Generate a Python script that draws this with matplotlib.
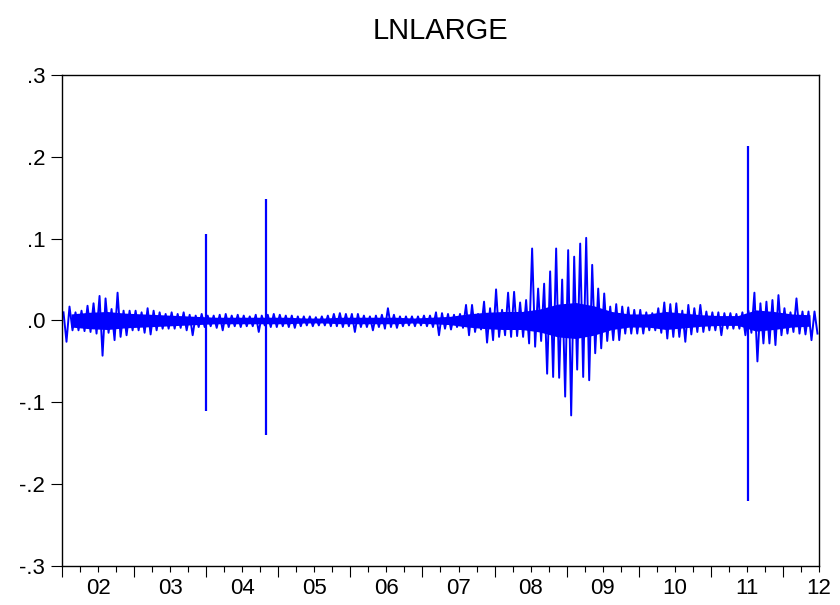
import numpy as np
import matplotlib
matplotlib.use('Agg')
import matplotlib.pyplot as plt

plt.rcParams['font.family'] = ['Liberation Sans', 'DejaVu Sans']

# monthly high / low of the series, Jan 2002 .. Jun 2012
hi = [0.010, 0.017, 0.010, 0.012, 0.018, 0.021, 0.030, 0.027, 0.014, 0.034, 0.012, 0.012,   # 2002
      0.012, 0.010, 0.015, 0.012, 0.010, 0.008, 0.010, 0.008, 0.010, 0.007, 0.006, 0.008,   # 2003
      0.006, 0.006, 0.007, 0.008, 0.006, 0.007, 0.006, 0.005, 0.007, 0.006, 0.007, 0.008,   # 2004
      0.007, 0.006, 0.006, 0.005, 0.005, 0.005, 0.004, 0.005, 0.006, 0.008, 0.009, 0.008,   # 2005
      0.008, 0.008, 0.006, 0.005, 0.006, 0.007, 0.015, 0.007, 0.005, 0.005, 0.005, 0.005,   # 2006
      0.006, 0.006, 0.010, 0.009, 0.008, 0.007, 0.008, 0.019, 0.019, 0.008, 0.023, 0.015,   # 2007
      0.038, 0.013, 0.034, 0.035, 0.022, 0.025, 0.088, 0.039, 0.045, 0.060, 0.088, 0.050,   # 2008
      0.086, 0.078, 0.094, 0.101, 0.068, 0.039, 0.033, 0.017, 0.020, 0.017, 0.016, 0.013,   # 2009
      0.013, 0.010, 0.009, 0.015, 0.022, 0.020, 0.021, 0.012, 0.019, 0.015, 0.019, 0.011,   # 2010
      0.010, 0.010, 0.009, 0.009, 0.008, 0.010, 0.012, 0.034, 0.021, 0.023, 0.025, 0.031,   # 2011
      0.015, 0.010, 0.027, 0.011, 0.011, 0.011]                                             # 2012
lo = [-0.026, -0.012, -0.012, -0.013, -0.014, -0.016, -0.043, -0.015, -0.024, -0.020, -0.018, -0.012,
      -0.012, -0.015, -0.017, -0.012, -0.010, -0.010, -0.010, -0.009, -0.012, -0.018, -0.008, -0.008,
      -0.007, -0.009, -0.012, -0.008, -0.007, -0.008, -0.007, -0.007, -0.014, -0.006, -0.008, -0.008,
      -0.007, -0.008, -0.009, -0.007, -0.006, -0.007, -0.006, -0.006, -0.007, -0.007, -0.008, -0.007,
      -0.014, -0.008, -0.008, -0.012, -0.008, -0.010, -0.008, -0.009, -0.007, -0.006, -0.007, -0.006,
      -0.007, -0.008, -0.018, -0.010, -0.011, -0.008, -0.009, -0.018, -0.014, -0.011, -0.027, -0.024,
      -0.020, -0.018, -0.020, -0.019, -0.020, -0.028, -0.032, -0.025, -0.065, -0.069, -0.070, -0.093,
      -0.116, -0.060, -0.069, -0.073, -0.040, -0.034, -0.025, -0.024, -0.024, -0.016, -0.016, -0.016,
      -0.016, -0.012, -0.012, -0.015, -0.022, -0.020, -0.020, -0.026, -0.017, -0.014, -0.014, -0.012,
      -0.012, -0.018, -0.010, -0.010, -0.010, -0.018, -0.015, -0.050, -0.028, -0.028, -0.030, -0.018,
      -0.016, -0.014, -0.016, -0.017, -0.024, -0.016]

# dense core of the band, half-width per quarter, 2002Q1 .. 2012Q2
core = [0.008, 0.010, 0.011, 0.009,
        0.008, 0.007, 0.006, 0.005,
        0.004, 0.004, 0.004, 0.004,
        0.004, 0.003, 0.003, 0.004,
        0.004, 0.004, 0.004, 0.003,
        0.004, 0.005, 0.008, 0.010,
        0.011, 0.011, 0.014, 0.020,
        0.022, 0.018, 0.011, 0.008,
        0.008, 0.011, 0.009, 0.007,
        0.006, 0.006, 0.013, 0.011,
        0.008, 0.007]

# single-day spikes (decimal year, high, low)
spike_t = [2003.997, 2004.83, 2011.515]
spike_hi = [0.106, 0.148, 0.213]
spike_lo = [-0.110, -0.140, -0.221]

years = list(range(2002, 2013))
year_labels = ['02', '03', '04', '05', '06', '07', '08', '09', '10', '11', '12']

n = len(hi)
m = np.arange(n)
t = np.empty(2 * n)
v = np.empty(2 * n)
t[0::2] = 2002 + (m + 0.25) / 12
t[1::2] = 2002 + (m + 0.75) / 12
v[0::2] = hi
v[1::2] = lo

core = np.array(core)
tq = 2002 + (np.arange(len(core)) + 0.5) / 4

fig = plt.figure(figsize=(8.4, 6.05), dpi=100)
ax = fig.add_axes([0.0738, 0.0645, 0.9012, 0.8115])

blue = '#0000ff'
ax.fill_between(tq, -core, core, color=blue, lw=0)
ax.plot(t, v, color=blue, lw=1.4)
ax.vlines(spike_t, spike_lo, spike_hi, color=blue, lw=1.6)

ax.set_xlim(2002, 2012.5)
ax.set_ylim(-0.3, 0.3)
ax.set_yticks([0.3, 0.2, 0.1, 0.0, -0.1, -0.2, -0.3])
ax.set_yticklabels(['.3', '.2', '.1', '.0', '-.1', '-.2', '-.3'], fontsize=16)
ax.tick_params(axis='y', length=8, width=0.8, pad=4)

ax.set_xticks(years[:-1] + [2012])
ax.set_xticklabels([])
ax.set_xticks(np.arange(2002, 2012.6, 0.25), minor=True)
ax.tick_params(axis='x', which='major', length=8, width=0.8)
ax.tick_params(axis='x', which='minor', length=4.5, width=0.8)

sec = ax.secondary_xaxis('bottom')
sec.set_xticks([y + 0.5 for y in years])
sec.set_xticklabels(year_labels, fontsize=16)
sec.tick_params(length=0, pad=9)
sec.spines['bottom'].set_visible(False)

for s in ax.spines.values():
    s.set_linewidth(1.0)

ax.set_title('LNLARGE', fontsize=21, pad=26)

fig.savefig('out.png', dpi=100)
